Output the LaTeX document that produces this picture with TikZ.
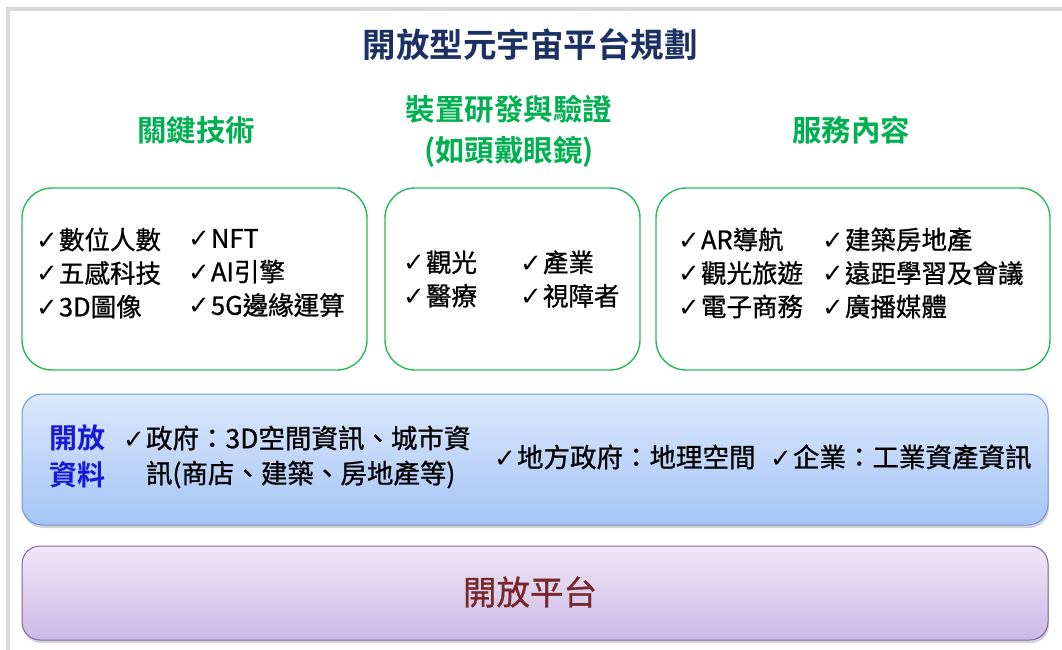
\documentclass[tikz,border=0pt]{standalone}
\usepackage{fontspec}
\setmainfont{Noto Sans CJK TC}
\newfontfamily\cjk{Noto Sans CJK TC}
\newfontfamily\cjkm[FakeBold=0.9]{Noto Sans CJK TC}
\newfontfamily\cjkb{Noto Sans CJK TC Bold}
\newfontfamily\dejavu{DejaVu Sans}
\usetikzlibrary{shadows}
\definecolor{navy}{RGB}{28,48,100}
\definecolor{hgreen}{RGB}{0,176,80}
\definecolor{bxgreen}{RGB}{40,184,92}
\definecolor{frame}{RGB}{217,217,217}
\definecolor{bluetop}{RGB}{220,232,252}
\definecolor{bluebot}{RGB}{164,196,246}
\definecolor{blueline}{RGB}{110,152,215}
\definecolor{purptop}{RGB}{239,232,247}
\definecolor{purpbot}{RGB}{204,184,230}
\definecolor{purpline}{RGB}{128,100,162}
\definecolor{odblue}{RGB}{24,24,215}
\definecolor{platred}{RGB}{120,40,40}
\newcommand{\ck}{{\dejavu\fontsize{26}{26}\selectfont ✓}\hspace{1pt}}
\tikzset{
  greenbox/.style={draw=bxgreen, line width=1.4pt, rounded corners=30pt},
  heading/.style={text=hgreen, font=\cjkb\fontsize{29.5}{41}\selectfont, inner sep=0pt},
  listtext/.style={anchor=west, align=left, inner sep=0pt, font=\cjkm\fontsize{25.5}{33.5}\selectfont},
  datatext/.style={anchor=west, align=left, inner sep=0pt, font=\cjkm\fontsize{26.5}{35}\selectfont},
}
\begin{document}
\begin{tikzpicture}[x=1pt,y=-1pt]
\useasboundingbox (0,0) rectangle (1062,650);
% gray frame
\fill[frame] (6,7) rectangle (1062,11);
\fill[frame] (6,7) rectangle (10,650);
% title
\node[text=navy, font=\cjkb\fontsize{33.5}{36}\selectfont, inner sep=0pt] (title) at (530,45) {開放型元宇宙平台規劃};
% headings
\node[heading] (h1) at (196,130) {關鍵技術};
\node[heading, align=center] (h2) at (509,131) {裝置研發與驗證\\(如頭戴眼鏡)};
\node[heading] (h3) at (851,130) {服務內容};
% green boxes
\draw[greenbox] (22,188) rectangle (367,370);
\draw[greenbox] (385,188) rectangle (640,370);
\draw[greenbox] (656,188) rectangle (1050,370);
% box 1
\node[listtext] (b1c1) at (36,273) {\ck 數位人數\\\ck 五感科技\\\ck 3D圖像};
\node[listtext] (b1c2) at (188,273) {\ck NFT\\\ck AI引擎\\\ck 5G邊緣運算};
% box 2
\node[listtext] (b2c1) at (403,279) {\ck 觀光\\\ck 醫療};
\node[listtext] (b2c2) at (520,279) {\ck 產業\\\ck 視障者};
% box 3
\node[listtext] (b3c1) at (678,273) {\ck AR導航\\\ck 觀光旅遊\\\ck 電子商務};
\node[listtext] (b3c2) at (822,273) {\ck 建築房地產\\\ck 遠距學習及會議\\\ck 廣播媒體};
% blue box
\path[draw=blueline, line width=1pt, top color=bluetop, bottom color=bluebot, rounded corners=20pt,
  drop shadow={shadow xshift=1pt, shadow yshift=-3pt, opacity=0.35}] (22,394) rectangle (1048,525);
\node[text=odblue, font=\cjkb\fontsize{28}{37}\selectfont, align=center, inner sep=0pt] (od) at (77,456) {開放\\資料};
\node[datatext] (d1) at (123,457) {\ck 政府：3D空間資訊、城市資\\\hphantom{\ck}訊(商店、建築、房地產等)};
\node[datatext] (d2) at (494,457) {\ck 地方政府：地理空間};
\node[datatext] (d3) at (770,457) {\ck 企業：工業資產資訊};
% purple box
\path[draw=purpline, line width=1pt, top color=purptop, bottom color=purpbot, rounded corners=18pt,
  drop shadow={shadow xshift=1pt, shadow yshift=-3pt, opacity=0.35}] (22,546) rectangle (1048,640);
\node[text=platred, font=\cjkm\fontsize{33.5}{36}\selectfont, inner sep=0pt] (plat) at (530,592) {開放平台};
\end{tikzpicture}
\end{document}
